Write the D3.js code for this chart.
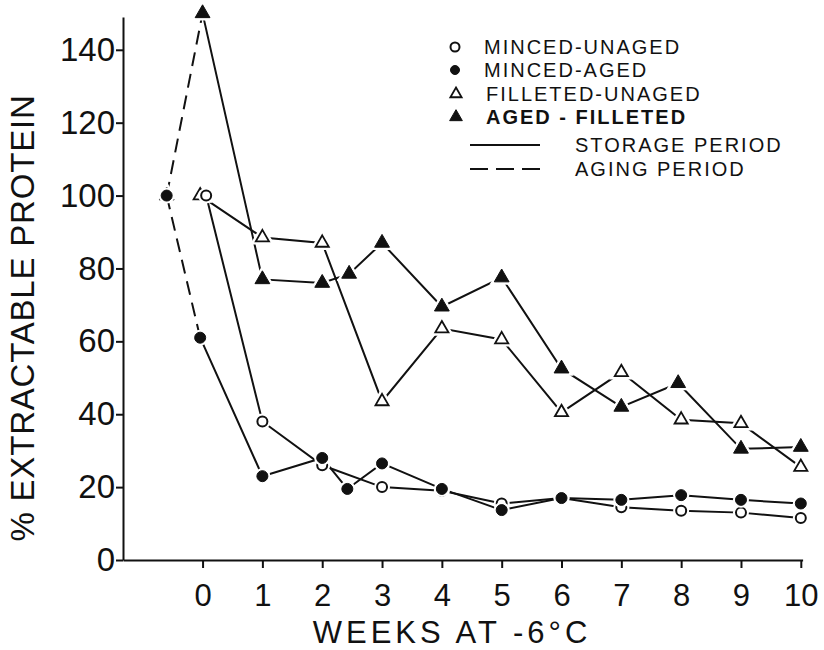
<!DOCTYPE html>
<html>
<head>
<meta charset="utf-8">
<script src="https://cdn.jsdelivr.net/npm/d3@7"></script>
<style>
  body { margin: 0; background: #fff; }
  svg { display: block; font-family: "Liberation Sans", "DejaVu Sans", sans-serif; }
  .axis text { font-size: 33px; fill: #111; }
  .x-axis text { font-size: 31px; }
  .axis path, .axis line { stroke: #111; stroke-width: 2; }
  .legend text { font-size: 20px; letter-spacing: 2px; fill: #111; }
</style>
</head>
<body>
<svg id="chart" width="824" height="650"></svg>
<script>
// % extractable protein vs weeks at -6 C, four treatments

const weekTicks = [0, 1, 2, 3, 4, 5, 6, 7, 8, 9, 10];
const valueTicks = [0, 20, 40, 60, 80, 100, 120, 140];

// aging period (dashed) start point
const agingStartWeek = -0.6;
const agingStartValue = 100;

// minced, unaged (open circles)
const mincedUnagedWeeks = [0.06, 1, 2, 3, 4, 5, 6, 7, 8, 9, 10];
const mincedUnagedValues = [100, 38, 26, 20, 19, 15.5, 17, 14.5, 13.5, 13, 11.5];

// minced, aged (filled circles)
const mincedAgedWeeks = [-0.04, 1, 2, 2.42, 3, 4, 5, 6, 7, 8, 9, 10];
const mincedAgedValues = [61, 23, 28, 19.5, 26.5, 19.5, 13.7, 17, 16.5, 17.8, 16.5, 15.5];

// filleted, unaged (open triangles)
const filletedUnagedWeeks = [-0.04, 1, 2, 3, 4, 5, 6, 7, 8, 9, 10];
const filletedUnagedValues = [100, 88.5, 87, 43.5, 63.5, 60.5, 40.5, 51.5, 38.5, 37.5, 25.5];

// aged, filleted (filled triangles)
const agedFilletedWeeks = [0, 1, 2, 2.45, 3, 4, 5, 6, 7, 7.95, 9, 10];
const agedFilletedValues = [150, 77, 76, 78.5, 87, 69.5, 77.5, 52.5, 42, 48.5, 30.5, 31];

const legendLabels = ['MINCED-UNAGED', 'MINCED-AGED', 'FILLETED-UNAGED', 'AGED - FILLETED'];
const lineLegendLabels = ['STORAGE PERIOD', 'AGING PERIOD'];

const svg = d3.select('#chart');

const xScale = d3.scaleLinear().domain([-1.33, 10.03]).range([123, 802.6]);
const yScale = d3.scaleLinear().domain([0, 149]).range([560, 17]);

// axes
const xAxis = d3.axisBottom(xScale).tickValues(weekTicks).tickSize(8).tickSizeOuter(0).tickPadding(16);
const yAxis = d3.axisLeft(yScale).tickValues(valueTicks).tickSize(7).tickSizeOuter(0).tickPadding(1);

svg.append('g').attr('class', 'axis x-axis')
  .attr('transform', `translate(0,${yScale(0)})`)
  .call(xAxis);
svg.append('g').attr('class', 'axis y-axis')
  .attr('transform', `translate(${xScale.range()[0]},0)`)
  .call(yAxis);

svg.append('text')
  .attr('x', 452).attr('y', 643)
  .attr('text-anchor', 'middle')
  .attr('font-size', 31).attr('letter-spacing', 4).attr('fill', '#111')
  .text('WEEKS AT -6°C');

svg.append('text')
  .attr('transform', 'translate(34,318) rotate(-90)')
  .attr('text-anchor', 'middle')
  .attr('font-size', 33).attr('letter-spacing', 0.8).attr('fill', '#111')
  .text('% EXTRACTABLE PROTEIN');

const zip = (ws, vs) => ws.map((w, i) => ({ w, v: vs[i] }));

const mu = zip(mincedUnagedWeeks, mincedUnagedValues);
const ma = zip(mincedAgedWeeks, mincedAgedValues);
const fu = zip(filletedUnagedWeeks, filletedUnagedValues);
const af = zip(agedFilletedWeeks, agedFilletedValues);
const agingStart = { w: agingStartWeek, v: agingStartValue };

const line = d3.line().x(d => xScale(d.w)).y(d => yScale(d.v));

const lines = svg.append('g').attr('fill', 'none').attr('stroke', '#111').attr('stroke-width', 2);

[mu, ma, fu, af].forEach(s => lines.append('path').attr('d', line(s)));

// aging period, dashed
[[agingStart, ma[0]], [agingStart, af[0]]].forEach(s => {
  lines.append('path').attr('d', line(s)).attr('stroke-dasharray', '14,8');
});

const triangle = d3.symbol().type(d3.symbolTriangle);

function drawMarkers(data, kind, filled) {
  const g = svg.append('g');
  // white halo so lines stop short of the marker
  if (kind === 'circle') {
    g.selectAll('circle.halo').data(data).join('circle')
      .attr('cx', d => xScale(d.w)).attr('cy', d => yScale(d.v))
      .attr('r', 8).attr('fill', '#fff');
    g.selectAll('circle.mark').data(data).join('circle')
      .attr('class', 'mark')
      .attr('cx', d => xScale(d.w)).attr('cy', d => yScale(d.v))
      .attr('r', filled ? 5.5 : 5)
      .attr('fill', filled ? '#111' : '#fff')
      .attr('stroke', '#111').attr('stroke-width', filled ? 1 : 2);
  } else {
    g.selectAll('path.halo').data(data).join('path')
      .attr('class', 'halo')
      .attr('transform', d => `translate(${xScale(d.w)},${yScale(d.v)})`)
      .attr('d', triangle.size(260)())
      .attr('fill', '#fff');
    g.selectAll('path.mark').data(data).join('path')
      .attr('class', 'mark')
      .attr('transform', d => `translate(${xScale(d.w)},${yScale(d.v)})`)
      .attr('d', triangle.size(filled ? 95 : 75)())
      .attr('fill', filled ? '#111' : '#fff')
      .attr('stroke', '#111').attr('stroke-width', filled ? 1 : 1.8);
  }
}

drawMarkers(fu, 'triangle', false);
drawMarkers(af.concat([agingStart]), 'triangle', true);
drawMarkers(mu, 'circle', false);
drawMarkers(ma.concat([agingStart]), 'circle', true);

// legend
const legend = svg.append('g').attr('class', 'legend');
const rowY = [54, 77, 101, 124];
legendLabels.forEach((label, i) => {
  const cy = rowY[i] - 7;
  if (i < 2) {
    legend.append('circle').attr('cx', 455).attr('cy', cy).attr('r', 4.5)
      .attr('fill', i === 1 ? '#111' : '#fff').attr('stroke', '#111').attr('stroke-width', i === 1 ? 1 : 2);
  } else {
    legend.append('path').attr('transform', `translate(456,${cy})`)
      .attr('d', triangle.size(i === 3 ? 70 : 55)())
      .attr('fill', i === 3 ? '#111' : '#fff').attr('stroke', '#111').attr('stroke-width', i === 3 ? 1 : 1.8);
  }
  legend.append('text').attr('x', i < 2 ? 484 : 486).attr('y', rowY[i])
    .attr('font-weight', i === 3 ? 'bold' : 'normal')
    .text(label);
});
lineLegendLabels.forEach((label, i) => {
  const y = 145 + i * 24;
  legend.append('line').attr('x1', 470).attr('x2', 540).attr('y1', y).attr('y2', y)
    .attr('stroke', '#111').attr('stroke-width', 2)
    .attr('stroke-dasharray', i === 1 ? '18,8' : null);
  legend.append('text').attr('x', 575).attr('y', y + 7).text(label);
});
</script>
</body>
</html>
